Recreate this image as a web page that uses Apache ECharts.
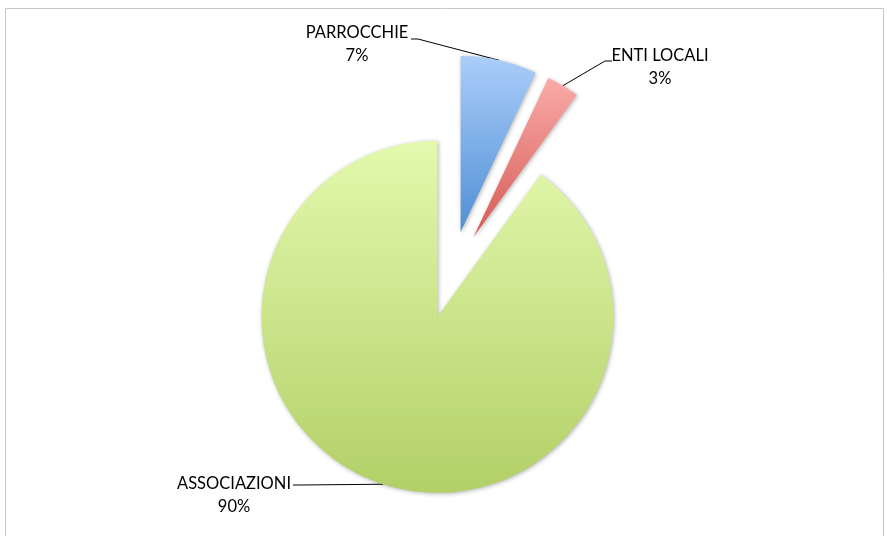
<!doctype html>
<html>
<head>
<meta charset="UTF-8">
<script src="https://cdn.jsdelivr.net/npm/echarts@6/dist/echarts.min.js"></script>
</head>
<body style="margin:0;background:#fff;">
<div id="main" style="width:887px;height:536px;"></div>
<script>
var categories = ['PARROCCHIE', 'ENTI LOCALI', 'ASSOCIAZIONI'];
var values = [7, 3, 90];
var topColors = ['#abcdf9', '#f9aba8', '#e3f9ae'];
var bottomColors = ['#4f8fd6', '#d65a55', '#b2d067'];

// pie geometry (every slice exploded by the same distance)
var cx = 451, cy = 275, R = 176, explode = 44;
// label text centres, and the bend / end of each leader line
var labelPos = [[357, 44], [660, 67], [234, 495]];
var lineBend = [[418, 39], [605, 61], [300, 485]];
var lineEnd = [[411, 39], [612, 61], [293, 485]];

var myChart = echarts.init(document.getElementById('main'));

var total = values.reduce(function (a, b) { return a + b; }, 0);
var cum = 0;
var series = categories.map(function (name, i) {
    var a0 = cum / total * 360;
    cum += values[i];
    var a1 = cum / total * 360;
    var mid = (a0 + a1) / 2 * Math.PI / 180;
    var c = [cx + explode * Math.sin(mid), cy - explode * Math.cos(mid)];
    var arcMid = [c[0] + R * Math.sin(mid), c[1] - R * Math.cos(mid)];
    return {
        type: 'pie',
        center: c,
        radius: R,
        startAngle: 90,
        clockwise: true,
        silent: true,
        avoidLabelOverlap: false,
        label: {
            show: true,
            formatter: '{b}\n{d}%',
            fontFamily: 'Lato',
            fontSize: 16.5,
            lineHeight: 23,
            color: '#000',
            align: 'center'
        },
        labelLine: { show: true, lineStyle: { color: '#000', width: 1 } },
        labelLayout: function (params) {
            if (params.dataIndex !== i) return {};
            return {
                x: labelPos[i][0], y: labelPos[i][1],
                align: 'center', verticalAlign: 'middle',
                labelLinePoints: [arcMid, lineBend[i], lineEnd[i]]
            };
        },
        data: categories.map(function (n, j) {
            if (j !== i) {
                return {
                    name: n, value: values[j],
                    itemStyle: { color: 'rgba(0,0,0,0)', shadowBlur: 0 },
                    label: { show: false }, labelLine: { show: false }
                };
            }
            return {
                name: n, value: values[j],
                itemStyle: {
                    color: new echarts.graphic.LinearGradient(0, 0, 0, 1, [
                        { offset: 0, color: topColors[j] },
                        { offset: 1, color: bottomColors[j] }
                    ]),
                    shadowBlur: 4,
                    shadowColor: 'rgba(0,0,0,0.3)',
                    shadowOffsetX: 1,
                    shadowOffsetY: 1
                }
            };
        })
    };
});

var option = {
    animation: false,
    graphic: [{
        type: 'rect',
        shape: { x: 5.5, y: 8.5, width: 878, height: 540 },
        style: { fill: 'none', stroke: '#c8c8c8', lineWidth: 1 }
    }],
    series: series
};
myChart.setOption(option);
</script>
</body>
</html>
